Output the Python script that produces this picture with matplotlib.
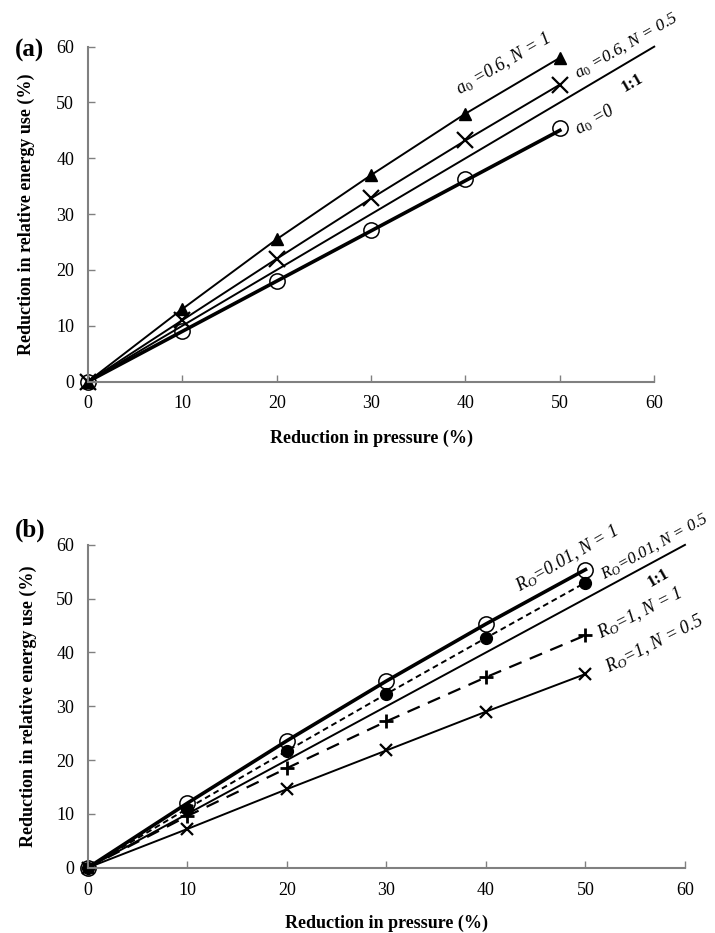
import matplotlib
matplotlib.use("Agg")
import matplotlib.pyplot as plt

plt.rcParams['font.family'] = ['Liberation Serif', 'DejaVu Serif']
plt.rcParams['mathtext.fontset'] = 'custom'
plt.rcParams['mathtext.rm'] = 'Liberation Serif'
plt.rcParams['mathtext.it'] = 'Liberation Serif:italic'

# data, panel (a)
x_a = [0, 10, 20, 30, 40, 50]
a06_n1 = [0, 13.0, 25.5, 37.0, 48.0, 58.0]
a06_n05 = [0, 11.0, 22.0, 32.8, 43.2, 53.2]
a0_zero = [0, 9.0, 18.1, 27.2, 36.3, 45.4]

# data, panel (b)
x_b = [0, 10, 20, 30, 40, 50]
r001_n1 = [0, 12.0, 23.6, 34.7, 45.3, 55.4]
r001_n05 = [0, 11.0, 21.7, 32.3, 42.7, 53.0]
r1_n1 = [0, 9.6, 18.5, 27.2, 35.4, 43.2]
r1_n05 = [0, 7.2, 14.6, 21.8, 29.0, 36.0]

one_to_one = [0, 60]
ticks = [0, 10, 20, 30, 40, 50, 60]

fig = plt.figure(figsize=(7.15, 9.33), dpi=100)
ax1 = fig.add_axes([0.123, 0.591, 0.792, 0.359])
ax2 = fig.add_axes([0.123, 0.070, 0.835, 0.346])


def style_axes(ax):
    ax.set_xlim(0, 60)
    ax.set_ylim(0, 60)
    ax.set_xticks(ticks)
    ax.set_yticks(ticks)
    for s in ['top', 'right']:
        ax.spines[s].set_visible(False)
    for s in ['left', 'bottom']:
        ax.spines[s].set_color('#808080')
        ax.spines[s].set_linewidth(1.5)
    ax.tick_params(direction='in', length=5, width=1, color='#808080',
                   labelsize=13, pad=10)
    ax.set_xlabel('Reduction in pressure (%)', fontsize=13, fontweight='bold')
    ax.set_ylabel('Reduction in relative energy use (%)', fontsize=13,
                  fontweight='bold')


# panel (a)
ax1.plot(one_to_one, one_to_one, color='black', lw=1.4, clip_on=False)
ax1.plot(x_a, a06_n1, color='black', lw=1.4, marker='^', ms=9,
         clip_on=False)
ax1.plot(x_a, a06_n05, color='black', lw=1.4, marker='x', ms=11, mew=1.6,
         clip_on=False)
ax1.plot([0, 50], [0, 45], color='black', lw=2.6, clip_on=False)
ax1.plot(x_a, a0_zero, color='none', marker='o', ms=11, mfc='none',
         mec='black', mew=1.1, clip_on=False)
style_axes(ax1)
ax1.xaxis.set_label_coords(0.5, -0.145)
ax1.yaxis.set_label_coords(-0.093, 0.5)

lab = dict(rotation=30, rotation_mode='anchor', ha='center', va='center',
           fontsize=13, style='italic', clip_on=False)
ax1.text(44.0, 56.9, '$a_0$ =0.6, N = 1', **lab)
ax1.text(57.0, 60.2, '$a_0$ =0.6, N = 0.5', **dict(lab, fontsize=12.5))
ax1.text(53.7, 46.9, '$a_0$ =0', **lab)
ax1.text(57.7, 53.5, '1:1', rotation=30, rotation_mode='anchor',
         ha='center', va='center', fontsize=12, fontweight='bold')
fig.text(30 / 715, 1 - 50 / 933, '(a)', fontsize=18, fontweight='bold',
         ha='center', va='center')

# panel (b)
ax2.plot(one_to_one, one_to_one, color='black', lw=1.4, clip_on=False)
ax2.plot(x_b, r001_n1, color='black', lw=2.6, clip_on=False)
ax2.plot(x_b, r001_n1, color='none', marker='o', ms=11, mfc='none',
         mec='black', mew=1.1, clip_on=False)
ax2.plot(x_b, r001_n05, color='black', lw=1.4, ls=(0, (3, 2)), marker='o',
         ms=8.5, clip_on=False)
ax2.plot(x_b, r1_n1, color='black', lw=1.6, ls=(0, (6, 4)), marker='+',
         ms=10, mew=2, clip_on=False)
ax2.plot(x_b, r1_n05, color='black', lw=1.4, marker='x', ms=9, mew=1.6,
         clip_on=False)
style_axes(ax2)
ax2.xaxis.set_label_coords(0.5, -0.145)
ax2.yaxis.set_label_coords(-0.085, 0.5)

ax2.text(48.1, 57.4, '$R_O$=0.01, N = 1', **lab)
ax2.text(57.0, 59.8, '$R_O$=0.01, N = 0.5', **dict(lab, rotation=29,
                                                     fontsize=12))
ax2.text(55.5, 47.3, '$R_O$=1, N = 1', **dict(lab, rotation=27))
ax2.text(56.9, 41.6, '$R_O$=1, N = 0.5', **dict(lab, rotation=27))
ax2.text(57.3, 53.9, '1:1', rotation=30, rotation_mode='anchor',
         ha='center', va='center', fontsize=12, fontweight='bold')
fig.text(30 / 715, 1 - 530 / 933, '(b)', fontsize=18, fontweight='bold',
         ha='center', va='center')

fig.savefig('out.png', dpi=100)
